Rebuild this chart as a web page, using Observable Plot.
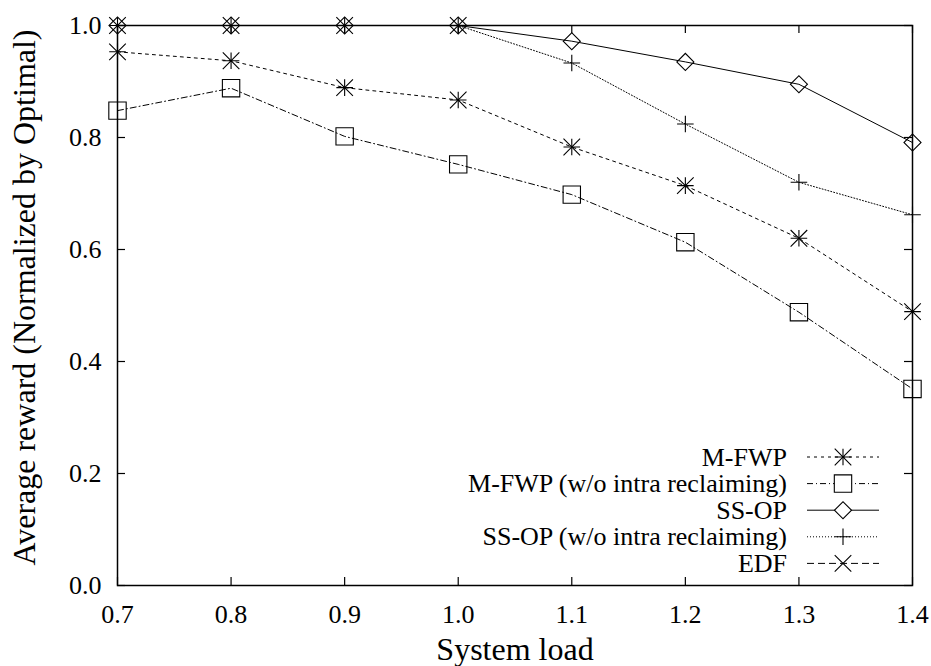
<!DOCTYPE html>
<html>
<head>
<meta charset="utf-8">
<script src="https://cdn.jsdelivr.net/npm/d3@7"></script>
<script src="https://cdn.jsdelivr.net/npm/@observablehq/plot@0.6"></script>
<style>
  body { margin: 0; background: #fff; }
  #wrap { position: relative; width: 931px; height: 666px; }
  #legend { position: absolute; left: 0; top: 0; pointer-events: none; }
</style>
</head>
<body>
<div id="wrap"></div>
<script>
// ---- data ----
const loads = [0.7, 0.8, 0.9, 1.0, 1.1, 1.2, 1.3, 1.4];
const mfwp = [0.953, 0.937, 0.889, 0.867, 0.783, 0.714, 0.620, 0.489];
const mfwpNoIntra = [0.848, 0.888, 0.802, 0.752, 0.698, 0.613, 0.488, 0.351];
const ssop = [1.0, 1.0, 1.0, 1.0, 0.972, 0.935, 0.895, 0.791];
const ssopNoIntra = [1.0, 1.0, 1.0, 1.0, 0.933, 0.824, 0.720, 0.662];
const edfLoads = [0.7, 0.8, 0.9, 1.0];
const edf = [1.0, 1.0, 1.0, 1.0];
const seriesNames = ["M-FWP", "M-FWP (w/o intra reclaiming)", "SS-OP", "SS-OP (w/o intra reclaiming)", "EDF"];
const xTicks = [0.7, 0.8, 0.9, 1.0, 1.1, 1.2, 1.3, 1.4];
const yTicks = [0.0, 0.2, 0.4, 0.6, 0.8, 1.0];
const xTitle = "System load";
const yTitle = "Average reward (Normalized by Optimal)";

// ---- table ----
const seriesX = [loads, loads, loads, loads, edfLoads];
const seriesY = [mfwp, mfwpNoIntra, ssop, ssopNoIntra, edf];
const rows = seriesNames.flatMap((name, i) => seriesY[i].map((v, j) => ({series: name, x: seriesX[i][j], y: v})));
const of = name => rows.filter(d => d.series === name);

// ---- styles ----
const dashes = ["3,4", "6,3,1,3", null, "1,2", "7,4"];
// markers: list of [symbol, r, rotate]
const markers = [
  [["plus", 5.4, 0], ["times", 7.6, 0]],
  [["square", 9.8, 0]],
  [["square", 6.8, 45]],
  [["plus", 5.4, 0]],
  [["times", 7.6, 0]]
];
const FONT = "'Liberation Serif', 'Times New Roman', serif";
const W = 931, H = 666, ML = 117, MR = 19, MT = 25, MB = 81;
const IW = W - ML - MR, IH = H - MT - MB;
const TICK = 8;

const marks = [
  Plot.frame({stroke: "black", strokeWidth: 1.5}),
  Plot.ruleX(xTicks, {stroke: "black", strokeWidth: 1.2, insetTop: IH - TICK}),
  Plot.ruleX(xTicks, {stroke: "black", strokeWidth: 1.2, insetBottom: IH - TICK}),
  Plot.ruleY(yTicks, {stroke: "black", strokeWidth: 1.2, insetRight: IW - TICK}),
  Plot.ruleY(yTicks, {stroke: "black", strokeWidth: 1.2, insetLeft: IW - TICK}),
  Plot.axisX(xTicks, {tickSize: 0, tickPadding: 19, fontSize: 26, fontFamily: FONT, tickFormat: d3.format(".1f"), label: null, fill: "black"}),
  Plot.axisY(yTicks, {tickSize: 0, tickPadding: 16, fontSize: 26, fontFamily: FONT, tickFormat: d3.format(".1f"), label: null, fill: "black"}),
  Plot.text([xTitle], {frameAnchor: "bottom", textAnchor: "middle", lineAnchor: "middle", dy: 64, fontSize: 32, fontFamily: FONT, fill: "black"}),
  Plot.text([yTitle], {frameAnchor: "left", textAnchor: "middle", lineAnchor: "middle", dx: -93, dy: -8, rotate: -90, fontSize: 32, fontFamily: FONT, fill: "black"})
];
seriesNames.forEach((name, i) => {
  marks.push(Plot.line(of(name), {x: "x", y: "y", stroke: "black", strokeWidth: 1, strokeDasharray: dashes[i] ?? undefined}));
});
seriesNames.forEach((name, i) => {
  markers[i].forEach(([sym, r, rot]) => {
    marks.push(Plot.dot(of(name), {x: "x", y: "y", symbol: sym, r, rotate: rot, stroke: "black", fill: "none", strokeWidth: 1.1}));
  });
});

const chart = Plot.plot({
  width: W, height: H,
  marginLeft: ML, marginRight: MR, marginTop: MT, marginBottom: MB,
  style: {fontFamily: FONT, background: "white", color: "black"},
  x: {domain: [0.7, 1.4]},
  y: {domain: [0, 1]},
  marks
});
const wrap = document.getElementById("wrap");
wrap.appendChild(chart);

// ---- legend (overlay) ----
const symMap = {plus: d3.symbolPlus, times: d3.symbolTimes, square: d3.symbolSquare};
const leg = d3.select(wrap).append("svg").attr("id", "legend").attr("width", W).attr("height", H);
seriesNames.forEach((name, i) => {
  const cy = 457 + 26.6 * i;
  leg.append("text").attr("x", 787).attr("y", cy + 8.5).attr("text-anchor", "end")
    .attr("font-family", FONT).attr("font-size", 26).attr("fill", "black").text(name);
  const ln = leg.append("line").attr("x1", 807).attr("x2", 879).attr("y1", cy).attr("y2", cy)
    .attr("stroke", "black").attr("stroke-width", 1);
  if (dashes[i]) ln.attr("stroke-dasharray", dashes[i]);
  markers[i].forEach(([sym, r, rot]) => {
    leg.append("path").attr("d", d3.symbol(symMap[sym], Math.PI * r * r)())
      .attr("transform", `translate(843,${cy}) rotate(${rot})`)
      .attr("fill", "white").attr("stroke", "black").attr("stroke-width", 1.1);
  });
});
</script>
</body>
</html>
